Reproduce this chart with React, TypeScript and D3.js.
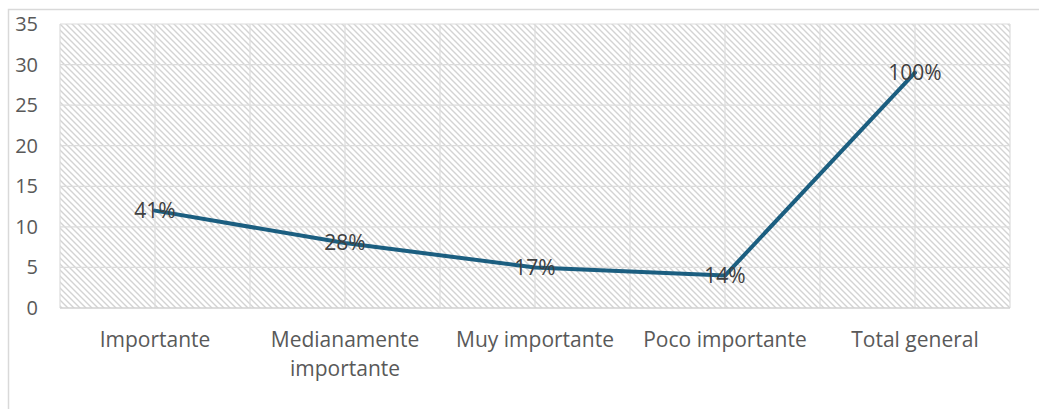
import * as React from 'react';
import { useEffect, useRef } from 'react';
import * as d3 from 'd3';

// chart data
const categories = ['Importante', 'Medianamente importante', 'Muy importante', 'Poco importante', 'Total general'];
const counts = [12, 8, 5, 4, 29];
const percentLabels = ['41%', '28%', '17%', '14%', '100%'];
const yTicks = [0, 5, 10, 15, 20, 25, 30, 35];

const W = 1039, H = 409;
const margin = { top: 24, right: 29, bottom: 101, left: 60 };
const FONT = '"Open Sans", Lato, sans-serif';

export default function App() {
  const ref = useRef<SVGSVGElement | null>(null);

  useEffect(() => {
    const svg = d3.select(ref.current);
    svg.selectAll('*').remove();

    const x0 = margin.left, x1 = W - margin.right;
    const y0 = H - margin.bottom, y1 = margin.top;

    const x = d3.scaleBand().domain(categories).range([x0, x1]);
    const y = d3.scaleLinear().domain([0, 35]).range([y0, y1]);

    // hatch pattern
    const defs = svg.append('defs');
    const pat = defs.append('pattern')
      .attr('id', 'hatch')
      .attr('patternUnits', 'userSpaceOnUse')
      .attr('width', 6)
      .attr('height', 6);
    pat.append('rect').attr('width', 6).attr('height', 6).attr('fill', '#fff');
    pat.append('path')
      .attr('d', 'M-1,-1 L7,7 M-1,5 L1,7 M5,-1 L7,1')
      .attr('stroke', '#d3d3d3')
      .attr('stroke-width', 1.4);

    // outer chart border
    svg.append('rect')
      .attr('x', 8.5).attr('y', 9.5)
      .attr('width', W + 10).attr('height', H + 10)
      .attr('fill', '#fff')
      .attr('stroke', '#d9d9d9')
      .attr('stroke-width', 1.5);

    // plot area
    svg.append('rect')
      .attr('x', x0).attr('y', y1)
      .attr('width', x1 - x0).attr('height', y0 - y1)
      .attr('fill', 'url(#hatch)');

    // horizontal gridlines
    svg.append('g').selectAll('line')
      .data(yTicks.slice(1))
      .enter()
      .append('line')
      .attr('x1', x0).attr('x2', x1)
      .attr('y1', d => y(d)).attr('y2', d => y(d))
      .attr('stroke', '#dcdcdc').attr('stroke-width', 1.2);

    // vertical gridlines at band edges and centers
    const vx: number[] = [];
    categories.forEach(c => {
      vx.push(x(c)!);
      vx.push(x(c)! + x.bandwidth() / 2);
    });
    vx.push(x1);
    svg.append('g').selectAll('line')
      .data(vx)
      .enter()
      .append('line')
      .attr('x1', d => d).attr('x2', d => d)
      .attr('y1', y1).attr('y2', y0)
      .attr('stroke', '#dcdcdc').attr('stroke-width', 1.2);

    // x axis line
    svg.append('line')
      .attr('x1', x0).attr('x2', x1)
      .attr('y1', y0).attr('y2', y0)
      .attr('stroke', '#d0d0d0').attr('stroke-width', 1.5);

    // y tick labels
    svg.append('g').selectAll('text')
      .data(yTicks)
      .enter()
      .append('text')
      .attr('x', 38)
      .attr('y', d => y(d))
      .attr('dy', '0.35em')
      .attr('text-anchor', 'end')
      .attr('font-family', FONT)
      .attr('font-size', 20)
      .attr('fill', '#595959')
      .text(d => d);

    // category labels (wrapped)
    const lines = (c: string) => c === 'Medianamente importante' ? ['Medianamente', 'importante'] : [c];
    const cat = svg.append('g').selectAll('text')
      .data(categories)
      .enter()
      .append('text')
      .attr('text-anchor', 'middle')
      .attr('font-family', FONT)
      .attr('font-size', 21)
      .attr('fill', '#595959');
    cat.each(function (c) {
      const t = d3.select(this);
      lines(c).forEach((l, i) => {
        t.append('tspan')
          .attr('x', x(c)! + x.bandwidth() / 2)
          .attr('y', y0 + 39 + i * 29)
          .text(l);
      });
    });

    // line
    const cx = (c: string) => x(c)! + x.bandwidth() / 2;
    const line = d3.line<number>()
      .x((d, i) => cx(categories[i]))
      .y(d => y(d));
    svg.append('path')
      .datum(counts)
      .attr('d', line)
      .attr('fill', 'none')
      .attr('stroke', '#1b5e80')
      .attr('stroke-width', 4)
      .attr('stroke-linejoin', 'round')
      .attr('stroke-linecap', 'round');

    // data labels
    svg.append('g').selectAll('text')
      .data(counts)
      .enter()
      .append('text')
      .attr('x', (d, i) => cx(categories[i]))
      .attr('y', d => y(d))
      .attr('dy', '0.35em')
      .attr('text-anchor', 'middle')
      .attr('font-family', FONT)
      .attr('font-size', 21)
      .attr('fill', '#404040')
      .text((d, i) => percentLabels[i]);
  }, []);

  return (
    <svg ref={ref} width={W} height={H}
      style={{ position: 'absolute', left: 0, top: 0, background: '#fff' }} />
  );
}
